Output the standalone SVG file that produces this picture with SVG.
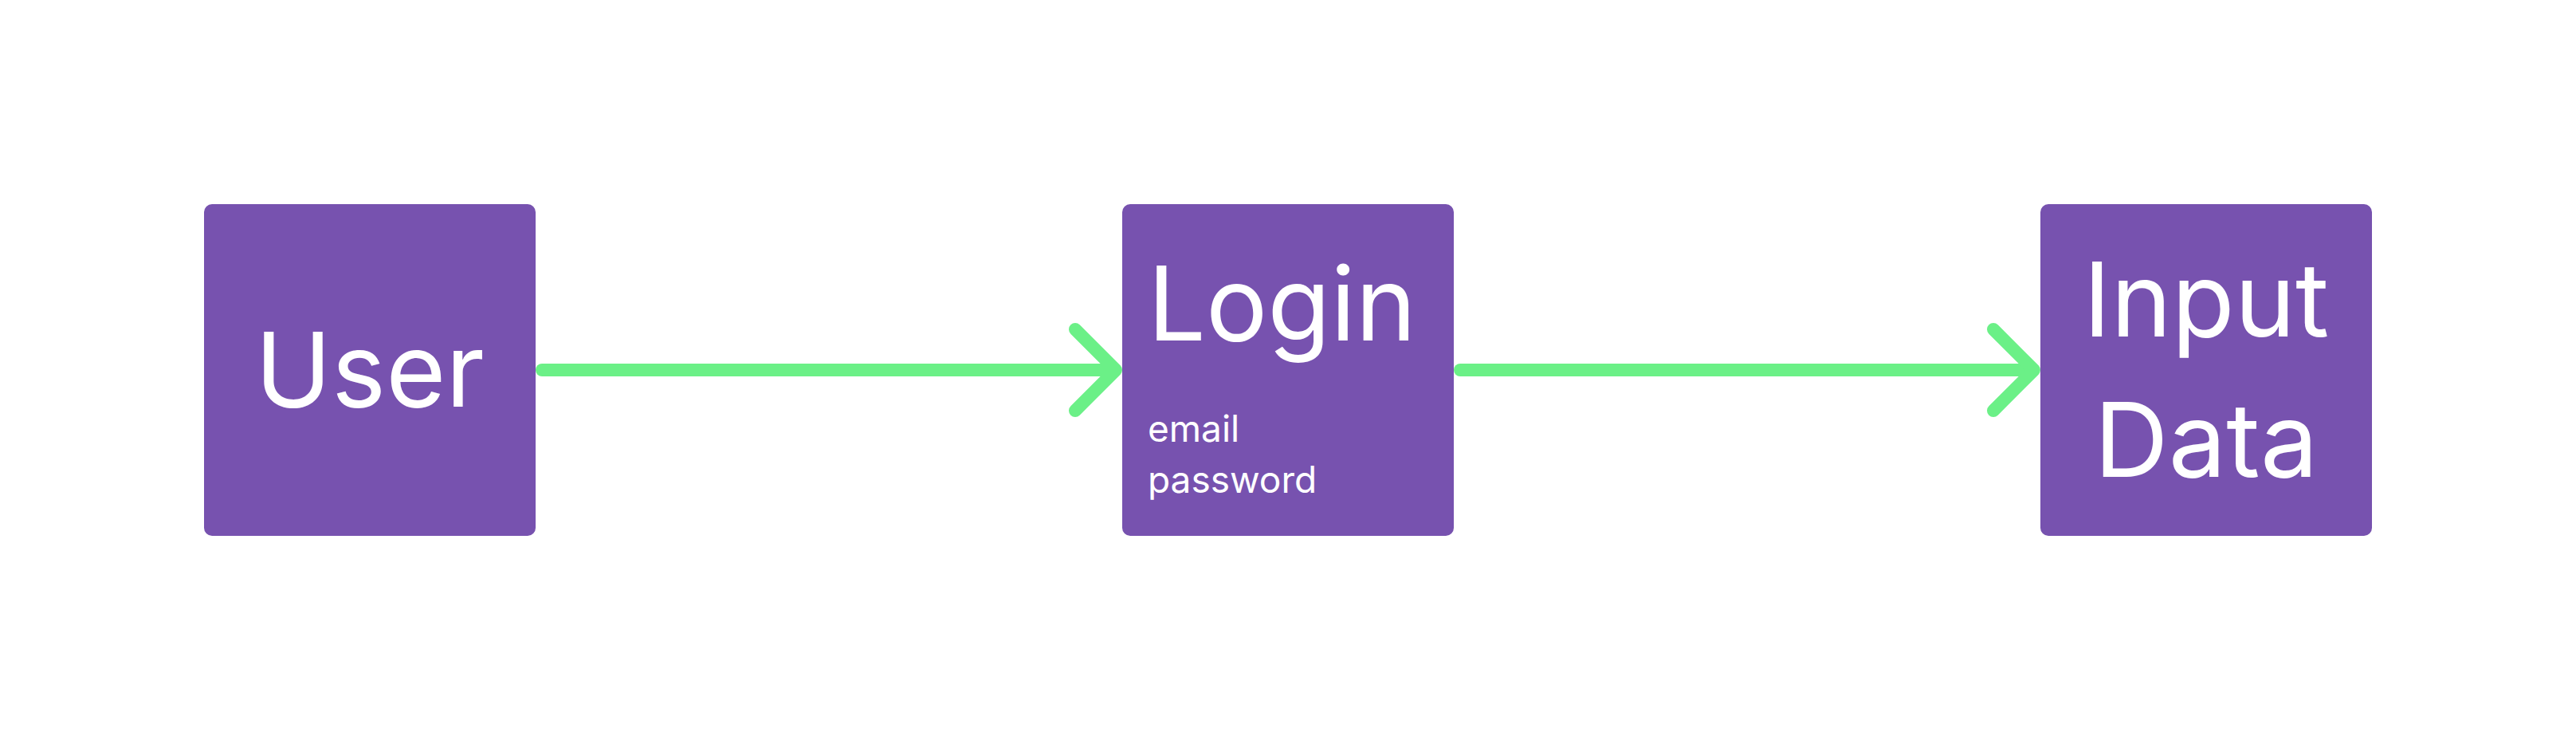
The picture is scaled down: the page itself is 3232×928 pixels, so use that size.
<svg xmlns="http://www.w3.org/2000/svg" width="3232" height="928" viewBox="0 0 3232 928">
<style>
.box{fill:#7752af}
.t{font-family:Inter,"Noto Sans",sans-serif;fill:#ffffff}
.big{font-size:129px}
.small{font-size:46px}
.edge{fill:none;stroke:#6bf087;stroke-width:16;stroke-linecap:round;stroke-linejoin:round}
</style>
<rect width="3232" height="928" fill="#ffffff"/>
<g id="connectors">
<g id="edge-user-login">
<line class="edge" x1="680" y1="464" x2="1398" y2="464"/>
<polyline class="edge" points="1349,413 1400,464 1349,515"/>
</g>
<g id="edge-login-input">
<line class="edge" x1="1832" y1="464" x2="2550" y2="464"/>
<polyline class="edge" points="2501,413 2552,464 2501,515"/>
</g>
</g>
<g id="node-user">
<rect class="box" x="256" y="256" width="416" height="416" rx="10"/>
<text class="t big" x="464" y="510" text-anchor="middle">User</text>
</g>
<g id="node-login">
<rect class="box" x="1408" y="256" width="416" height="416" rx="10"/>
<text class="t big" x="1440" y="427">Login</text>
<text class="t small" x="1440" y="554">email</text>
<text class="t small" x="1440" y="618">password</text>
</g>
<g id="node-input">
<rect class="box" x="2560" y="256" width="416" height="416" rx="10"/>
<text class="t big" x="2768" y="422" text-anchor="middle">Input</text>
<text class="t big" x="2768" y="598" text-anchor="middle">Data</text>
</g>
</svg>
